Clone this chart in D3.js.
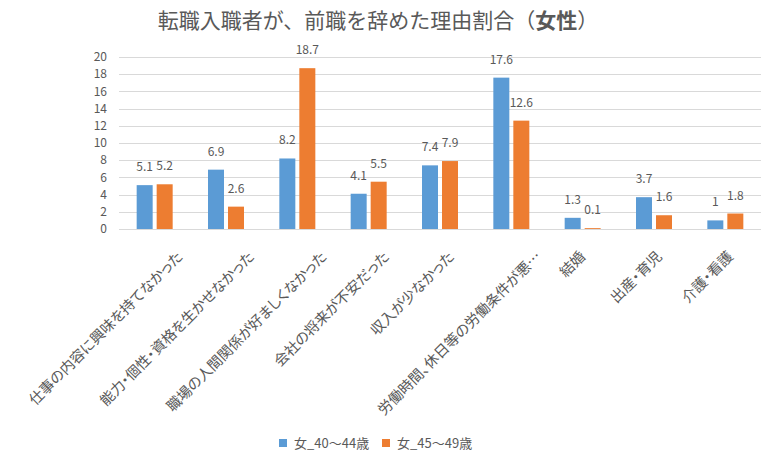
<!DOCTYPE html>
<html lang="ja">
<head>
    <meta charset="UTF-8">
    <title>転職入職者が、前職を辞めた理由割合(女性)</title>
    <script src="https://cdnjs.cloudflare.com/ajax/libs/d3/7.8.5/d3.min.js"></script>
    <style>
        body {
            margin: 0;
            background: #fff;
            font-family: "Noto Sans CJK JP", "Noto Sans", sans-serif;
        }
        .grid line {
            stroke: #d9d9d9;
            stroke-width: 1;
        }
        .tick-label, .cat-label, .val-label, .legend-text {
            fill: #595959;
        }
        .cat-label {
            font-feature-settings: "palt";
        }
    </style>
</head>
<body>
    <svg id="chart" width="766" height="455"></svg>

    <script>
        // chart data
        const categories = [
            "仕事の内容に興味を持てなかった",
            "能力・個性・資格を生かせなかった",
            "職場の人間関係が好ましくなかった",
            "会社の将来が不安だった",
            "収入が少なかった",
            "労働時間、休日等の労働条件が悪…",
            "結婚",
            "出産・育児",
            "介護・看護"
        ];
        const seriesNames = ["女_40～44歳", "女_45～49歳"];
        const values40to44 = [5.1, 6.9, 8.2, 4.1, 7.4, 17.6, 1.3, 3.7, 1];
        const values45to49 = [5.2, 2.6, 18.7, 5.5, 7.9, 12.6, 0.1, 1.6, 1.8];
        const yTicks = [0, 2, 4, 6, 8, 10, 12, 14, 16, 18, 20];
        const colors = ["#5b9bd5", "#ed7d31"];

        const svg = d3.select("#chart");
        const plot = { left: 119, right: 761, top: 57, bottom: 229 };

        const series = [values40to44, values45to49];

        const x0 = d3.scaleBand()
            .domain(categories)
            .range([plot.left, plot.right]);

        const x1 = d3.scaleBand()
            .domain(d3.range(seriesNames.length))
            .range([x0.bandwidth() / 2 - 18, x0.bandwidth() / 2 + 18])
            .paddingInner(0.2);

        const y = d3.scaleLinear()
            .domain([0, 20])
            .range([plot.bottom, plot.top]);

        // gridlines
        svg.append("g")
            .attr("class", "grid")
            .selectAll("line")
            .data(yTicks)
            .enter()
            .append("line")
            .attr("x1", plot.left)
            .attr("x2", plot.right)
            .attr("y1", d => Math.round(y(d)) + 0.5)
            .attr("y2", d => Math.round(y(d)) + 0.5);

        // y tick labels
        svg.append("g")
            .selectAll("text")
            .data(yTicks)
            .enter()
            .append("text")
            .attr("class", "tick-label")
            .attr("x", 107)
            .attr("y", d => y(d))
            .attr("dy", "0.35em")
            .attr("text-anchor", "end")
            .attr("font-size", 12)
            .text(d => d);

        // bars
        const groups = svg.append("g")
            .selectAll("g")
            .data(categories)
            .enter()
            .append("g")
            .attr("transform", d => `translate(${x0(d)},0)`);

        groups.selectAll("rect")
            .data((d, i) => series.map((s, k) => ({ k: k, v: s[i] })))
            .enter()
            .append("rect")
            .attr("x", d => x1(d.k))
            .attr("width", x1.bandwidth())
            .attr("y", d => y(d.v))
            .attr("height", d => y(0) - y(d.v))
            .attr("fill", d => colors[d.k]);

        // value labels
        groups.selectAll("text")
            .data((d, i) => series.map((s, k) => ({ k: k, v: s[i] })))
            .enter()
            .append("text")
            .attr("class", "val-label")
            .attr("x", d => x1(d.k) + x1.bandwidth() / 2)
            .attr("y", d => y(d.v) - 14)
            .attr("text-anchor", "middle")
            .attr("font-size", 12)
            .text(d => d.v);

        // category labels, rotated (long labels sit a bit further right, like excel)
        svg.append("g")
            .selectAll("text")
            .data(categories)
            .enter()
            .append("text")
            .attr("class", "cat-label")
            .attr("dy", "0.35em")
            .attr("text-anchor", "end")
            .attr("font-size", 14.5)
            .text(d => d)
            .attr("transform", function(d) {
                const len = this.getComputedTextLength();
                const cx = x0(d) + x0.bandwidth() / 2 + len * 0.14 - 4;
                return `translate(${cx},254) rotate(-45)`;
            });

        // title
        const title = svg.append("text")
            .attr("x", 378)
            .attr("y", 28)
            .attr("text-anchor", "middle")
            .attr("font-size", 21)
            .attr("fill", "#595959");
        title.append("tspan").text("転職入職者が、前職を辞めた理由割合（");
        title.append("tspan").attr("font-weight", "bold").text("女性");
        title.append("tspan").text("）");

        // legend
        const legend = svg.append("g");
        const legendX = [279, 382];
        seriesNames.forEach((name, k) => {
            legend.append("rect")
                .attr("x", legendX[k])
                .attr("y", 439)
                .attr("width", 8)
                .attr("height", 8)
                .attr("fill", colors[k]);
            legend.append("text")
                .attr("class", "legend-text")
                .attr("x", legendX[k] + 15)
                .attr("y", 443)
                .attr("dy", "0.35em")
                .attr("font-size", 13)
                .text(name);
        });
    </script>
</body>
</html>
